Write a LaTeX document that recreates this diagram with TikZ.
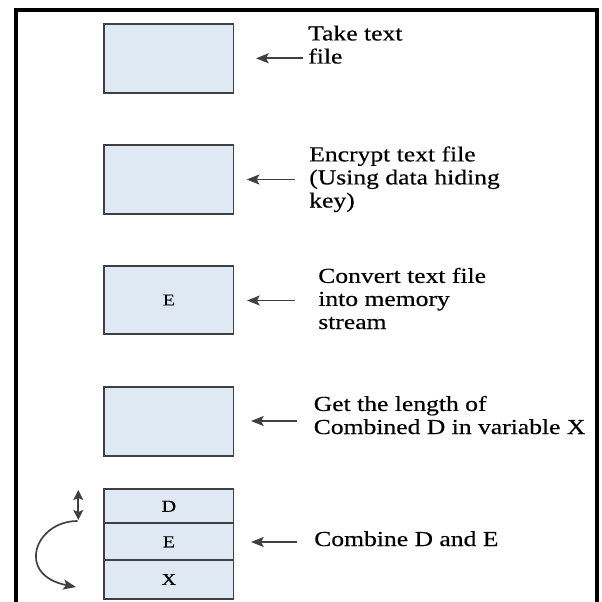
\documentclass[tikz,border=0pt]{standalone}
\usepackage{fontspec}
\setmainfont[FakeStretch=1.2,FakeBold=0.4]{Liberation Serif}
\usetikzlibrary{arrows.meta}
\definecolor{boxfill}{RGB}{223,233,243}
\definecolor{edge}{RGB}{64,64,64}
\tikzset{
  box/.style={draw=edge, line width=1.4pt, fill=boxfill, inner sep=0pt,
    minimum width=96.9pt, font=\fontsize{12.5pt}{13pt}\selectfont},
  stepbox/.style={box, minimum height=51.4pt},
  lbl/.style={anchor=base west, inner sep=0pt, align=left,
    font=\fontsize{16pt}{17.3pt}\selectfont},
  arr/.style={draw=edge, line width=1.25pt, -{Stealth[length=9.5pt,width=7.5pt,inset=2pt]}},
  darr/.style={draw=edge, line width=1.25pt, {Stealth[length=7.5pt,width=7.5pt,inset=1.5pt]}-{Stealth[length=7.5pt,width=7.5pt,inset=1.5pt]}},
  frame/.style={draw=black, line width=3pt, line join=miter}
}
\begin{document}
\begin{tikzpicture}[x=0.75pt,y=-0.75pt]
\useasboundingbox (0,0) rectangle (602,602);
\fill[white] (0,0) rectangle (602,602);
% outer frame (open at the bottom)
\draw[frame] (15.7,615) -- (15.7,10.3) -- (597,10.3) -- (597,615);

% boxes
\node[stepbox] (b1) at (168.9,58.35) {};
\node[stepbox] (b2) at (168.9,179.3) {};
\node[stepbox] (b3) at (168.9,300) {E};
\node[stepbox] (b4) at (168.9,421.5) {};
\node[box, minimum height=25.5pt] (bd) at (168.9,506.3) {D};
\node[box, minimum height=27.75pt] (be) at (168.9,541.8) {E};
\node[box, minimum height=28.8pt] (bx) at (168.9,579.5) {X};

% texts (anchored at the baseline of the last line)
\node[lbl] (t1) at (308,63.5) {Take text\\file};
\node[lbl] (t2) at (309,207.5) {Encrypt text file\\(Using data hiding\\key)};
\node[lbl] (t3) at (318,329) {Convert text file\\into memory\\stream};
\node[lbl] (t4) at (313.5,434) {Get the length of\\Combined D in variable X};
\node[lbl] (t5) at (314,546) {Combine D and E};

% arrow ends
\coordinate (s1) at (302.5,58.3); \coordinate (e1) at (256,58.3);
\coordinate (s2) at (294.5,179.5);\coordinate (e2) at (246.7,179.5);
\coordinate (s3) at (295,300.5);  \coordinate (e3) at (247,300.5);
\coordinate (s4) at (297,421);    \coordinate (e4) at (251,421);
\coordinate (s5) at (297,542);    \coordinate (e5) at (251,542);
\draw[arr] (s1) -- (e1);
\draw[arr] (s2) -- (e2);
\draw[arr] (s3) -- (e3);
\draw[arr] (s4) -- (e4);
\draw[arr] (s5) -- (e5);

% double arrow and curved arrow
\coordinate (dt) at (78.3,490);
\coordinate (db) at (78.3,520);
\draw[darr] (dt) -- (db);
\coordinate (cs) at (77.5,521);
\coordinate (ce) at (76,587);
\draw[arr] (cs) .. controls (35,521) and (15,575) .. (ce);
\end{tikzpicture}
\end{document}
